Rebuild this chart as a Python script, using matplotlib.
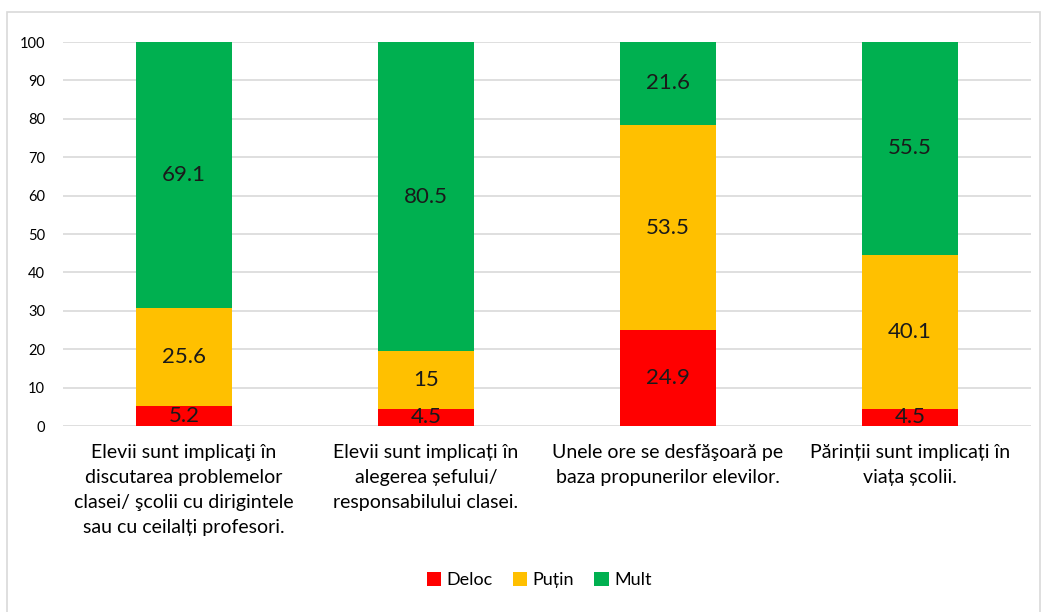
import numpy as np
import matplotlib.pyplot as plt
from matplotlib.patches import Rectangle

# Survey answers per statement (percent)
categories = [
    "Elevii sunt implicaţi în\ndiscutarea problemelor\nclasei/ şcolii cu dirigintele\nsau cu ceilalți profesori.",
    "Elevii sunt implicați în\nalegerea șefului/\nresponsabilului clasei.",
    "Unele ore se desfăşoară pe\nbaza propunerilor elevilor.",
    "Părinții sunt implicați în\nviața școlii.",
]
deloc = [5.2, 4.5, 24.9, 4.5]
putin = [25.6, 15, 53.5, 40.1]
mult = [69.1, 80.5, 21.6, 55.5]

series = [("Deloc", deloc, "#FF0000"), ("Puțin", putin, "#FFC000"), ("Mult", mult, "#00B050")]

plt.rcParams['font.family'] = ['Lato', 'DejaVu Sans']

fig = plt.figure(figsize=(10.47, 6.12), dpi=100)
ax = fig.add_axes([63 / 1047, 1 - 426 / 612, 968 / 1047, 384 / 612])

# outer chart border
fig.patches.append(Rectangle((7 / 1047, -0.01), 1033 / 1047, 1 - 12 / 612 + 0.01,
                             transform=fig.transFigure, fill=False,
                             edgecolor="#D9D9D9", linewidth=1.2))

x = np.arange(len(categories))
bottom = np.zeros(len(categories))
for name, vals, col in series:
    vals = np.array(vals, dtype=float)
    ax.bar(x, vals, width=0.397, bottom=bottom, color=col, label=name, zorder=3)
    for xi, b, v in zip(x, bottom, vals):
        ax.text(xi, b + v / 2, "{:g}".format(v), ha="center", va="center",
                fontsize=16, color="#1a1a1a", zorder=4)
    bottom += vals

ax.set_xlim(-0.5, 3.5)
ax.set_ylim(0, 100)
ax.set_yticks(np.arange(0, 101, 10))
ax.yaxis.grid(True, color="#D9D9D9", linewidth=1.2, zorder=0)
ax.set_axisbelow(True)
for s in ax.spines.values():
    s.set_visible(False)
ax.tick_params(axis="y", length=0, labelsize=10.5, pad=13)
ax.tick_params(axis="x", length=0, labelsize=14, pad=13)
ax.set_xticks(x)
ax.set_xticklabels(categories, linespacing=1.58)

ax.legend(loc="center", bbox_to_anchor=(0.515, 1 - 580 / 612), bbox_transform=fig.transFigure,
          ncol=3, frameon=False, fontsize=13, handlelength=0.8, handleheight=0.8,
          handletextpad=0.3, columnspacing=1.1)

fig.savefig("out.png", dpi=100)
